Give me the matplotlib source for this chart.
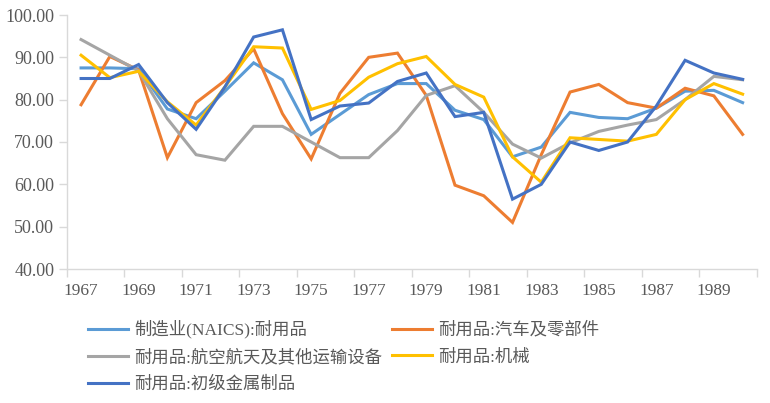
import matplotlib
matplotlib.use("Agg")
import matplotlib.pyplot as plt

years = list(range(1967, 1991))
names = ["制造业(NAICS):耐用品", "耐用品:汽车及零部件", "耐用品:航空航天及其他运输设备",
         "耐用品:机械", "耐用品:初级金属制品"]
s_mfg = [87.5, 87.5, 87.3, 77.8, 75.5, 82.0, 88.7, 84.7, 71.8, 76.5, 81.2, 83.8,
         83.8, 77.5, 75.3, 66.5, 68.8, 77.0, 75.8, 75.5, 78.0, 82.0, 82.2, 79.3]
s_auto = [78.8, 90.2, 87.0, 66.3, 79.3, 84.5, 92.0, 76.7, 66.0, 81.5, 90.0, 91.0,
          81.0, 59.8, 57.3, 51.0, 67.0, 81.8, 83.6, 79.3, 78.0, 82.7, 80.9, 71.8]
s_aero = [94.2, 90.5, 86.8, 75.5, 67.0, 65.7, 73.7, 73.7, 70.0, 66.3, 66.3, 72.7,
          81.0, 83.3, 77.0, 69.5, 66.2, 69.8, 72.5, 74.0, 75.3, 80.0, 85.5, 84.7]
s_mach = [90.5, 85.2, 86.7, 79.5, 74.0, 83.0, 92.5, 92.2, 77.7, 79.8, 85.3, 88.5,
          90.2, 83.6, 80.6, 66.5, 60.5, 71.0, 70.6, 70.2, 71.8, 80.0, 83.8, 81.3]
s_metal = [85.0, 85.0, 88.3, 79.3, 73.0, 83.0, 94.8, 96.5, 75.3, 78.5, 79.2, 84.3,
           86.3, 76.0, 77.0, 56.5, 60.0, 70.0, 68.0, 70.0, 78.5, 89.3, 86.3, 84.8]
series = [s_mfg, s_auto, s_aero, s_mach, s_metal]
colors = ["#5B9BD5", "#ED7D31", "#A5A5A5", "#FFC000", "#4472C4"]

plt.rcParams['font.family'] = ['Liberation Serif', 'Noto Sans CJK SC', 'DejaVu Sans']

fig = plt.figure(figsize=(7.7, 4.03), dpi=100)
ax = fig.add_axes([66.7/770, 1-269/403, (757-66.7)/770, (269-15)/403])
xs = list(range(len(years)))
handles = []
for s, c, n in zip(series, colors, names):
    h, = ax.plot(xs, s, color=c, lw=2.2, label=n, solid_joinstyle='miter')
    handles.append(h)

ax.set_xlim(-0.5, len(years) - 0.5)
ax.set_ylim(40, 100)
ax.set_yticks(range(40, 101, 10))
ax.set_yticklabels([f"{v:.2f}" for v in range(40, 101, 10)], fontsize=13, color="#595959")
ax.set_xticks([i - 0.5 for i in range(0, len(years) + 1, 2)])
ax.set_xticklabels([])
ax.set_xticks(list(range(0, len(years), 2)), minor=True)
ax.set_xticklabels([str(years[i]) for i in range(0, len(years), 2)], minor=True,
                   fontsize=12.5, color="#595959")
ax.tick_params(axis='x', which='major', length=6, color="#D9D9D9", width=1)
ax.tick_params(axis='x', which='minor', length=0, pad=10)
ax.tick_params(axis='y', length=6, color="#D9D9D9", width=1, pad=3)
for sp in ['top', 'right']:
    ax.spines[sp].set_visible(False)
for sp in ['left', 'bottom']:
    ax.spines[sp].set_color("#D9D9D9")
    ax.spines[sp].set_linewidth(1)

order = [0, 2, 4, 1, 3]
leg = fig.legend([handles[i] for i in order], [names[i] for i in order],
                 ncol=2, loc='upper left', bbox_to_anchor=(88/770, 1-320/403),
                 frameon=False, fontsize=12.5, handlelength=2.3, handletextpad=0.35,
                 columnspacing=0.6, labelspacing=0.6, borderaxespad=0, borderpad=0)
for t in leg.get_texts():
    t.set_color("#595959")

fig.savefig("out.png", dpi=100)
